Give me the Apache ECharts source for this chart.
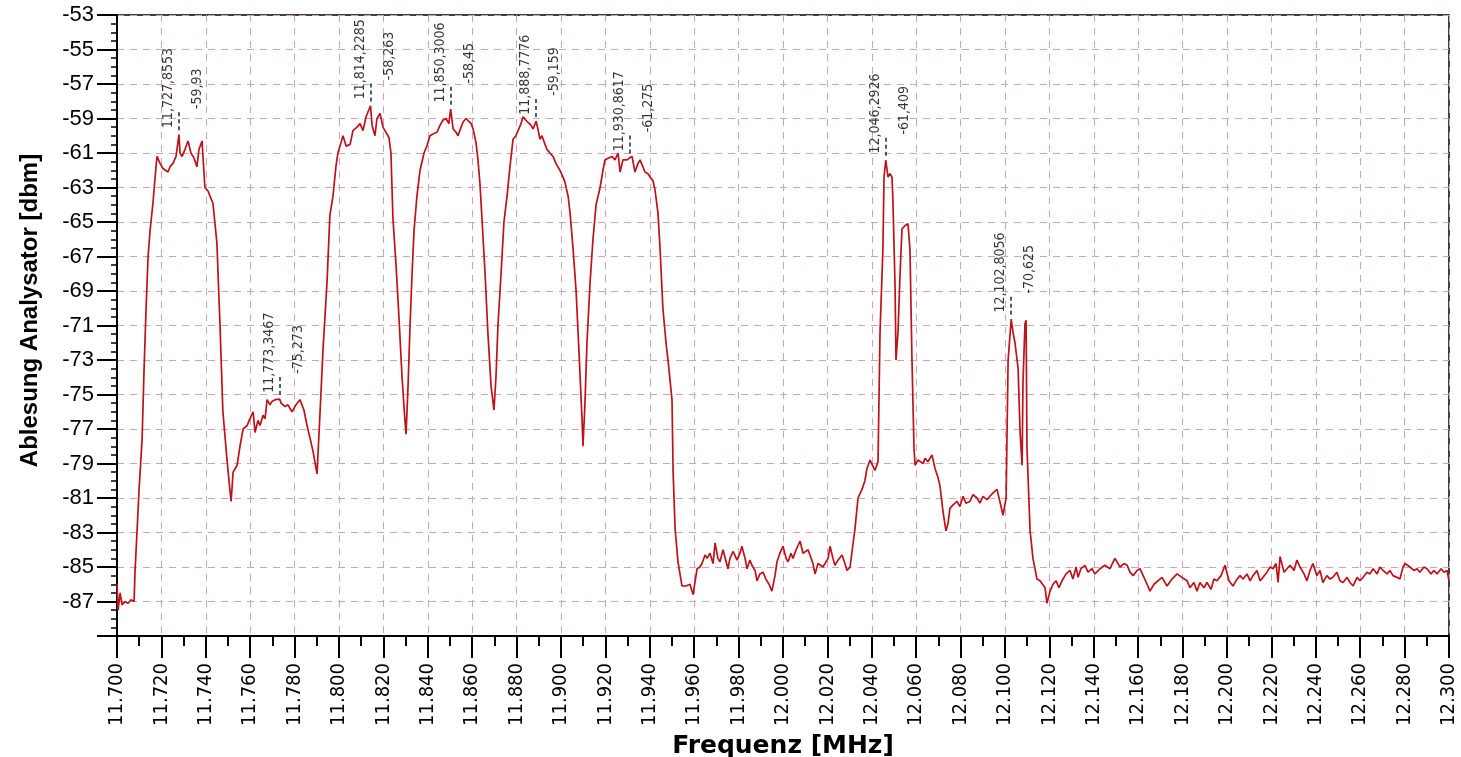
<!DOCTYPE html>
<html>
<head>
<meta charset="utf-8">
<title>Frequenz Spektrum</title>
<script src="https://cdn.jsdelivr.net/npm/echarts@6/dist/echarts.min.js"></script>
<style>
    html, body { margin: 0; padding: 0; background: #fff; }
    #chart { width: 1461px; height: 757px; }
</style>
</head>
<body>
<div id="chart"></div>
<script>
// Messkurve: [Frequenz MHz, Pegel dBm]
const trace = [
    [11.7000, -86.0], [11.7005, -87.5], [11.7014, -86.5], [11.7023, -87.2], [11.7036, -87.0],
    [11.7050, -87.1], [11.7063, -86.9], [11.7077, -87.0], [11.7081, -85.3], [11.7090, -83.0],
    [11.7099, -80.6], [11.7113, -77.6], [11.7122, -73.5], [11.7131, -70.0], [11.7140, -67.0],
    [11.7149, -65.5], [11.7162, -63.9], [11.7171, -62.5], [11.7180, -61.2], [11.7194, -61.6],
    [11.7207, -61.9], [11.7230, -62.1], [11.7239, -61.8], [11.7252, -61.6], [11.7266, -61.2],
    [11.7279, -59.93], [11.7284, -61.0], [11.7293, -61.2], [11.7306, -60.8], [11.7320, -60.3],
    [11.7333, -61.0], [11.7347, -61.3], [11.7360, -61.8], [11.7369, -60.8], [11.7383, -60.3],
    [11.7396, -63.0], [11.7410, -63.2], [11.7419, -63.5], [11.7432, -63.9], [11.7450, -66.2],
    [11.7464, -71.0], [11.7477, -76.0], [11.7495, -78.7], [11.7509, -80.6], [11.7514, -81.2],
    [11.7523, -79.5], [11.7541, -79.1], [11.7554, -78.0], [11.7568, -77.0], [11.7586, -76.8],
    [11.7599, -76.4], [11.7613, -76.0], [11.7622, -77.2], [11.7635, -76.5], [11.7644, -76.8],
    [11.7658, -76.2], [11.7667, -76.4], [11.7676, -75.3], [11.7689, -75.6], [11.7698, -75.4],
    [11.7712, -75.3], [11.7733, -75.27], [11.7739, -75.5], [11.7757, -75.7], [11.7770, -75.6],
    [11.7788, -76.0], [11.7806, -75.6], [11.7824, -75.3], [11.7842, -75.9], [11.7856, -76.8],
    [11.7869, -77.5], [11.7883, -78.3], [11.7901, -79.6], [11.7914, -76.2], [11.7928, -72.4],
    [11.7946, -68.5], [11.7959, -64.6], [11.7973, -63.5], [11.7986, -61.8], [11.7995, -61.0],
    [11.8009, -60.4], [11.8018, -60.0], [11.8032, -60.6], [11.8050, -60.5], [11.8063, -59.7],
    [11.8081, -59.5], [11.8095, -59.3], [11.8108, -59.7], [11.8122, -58.9], [11.8131, -59.0],
    [11.8142, -58.26], [11.8149, -59.4], [11.8162, -60.0], [11.8171, -59.0], [11.8185, -58.7],
    [11.8198, -59.5], [11.8207, -59.7], [11.8225, -60.1], [11.8234, -61.0], [11.8243, -64.8],
    [11.8257, -67.5], [11.8270, -70.5], [11.8284, -74.0], [11.8297, -76.5], [11.8302, -77.3],
    [11.8311, -74.5], [11.8320, -71.0], [11.8329, -68.0], [11.8338, -65.5], [11.8351, -63.5],
    [11.8365, -62.0], [11.8383, -61.0], [11.8396, -60.6], [11.8410, -60.0], [11.8423, -59.9],
    [11.8441, -59.8], [11.8455, -59.4], [11.8468, -59.1], [11.8482, -59.0], [11.8495, -59.3],
    [11.8503, -58.45], [11.8514, -59.6], [11.8527, -59.8], [11.8536, -60.0], [11.8550, -59.5],
    [11.8559, -59.2], [11.8572, -59.0], [11.8581, -59.1], [11.8595, -59.3], [11.8604, -59.6],
    [11.8617, -60.4], [11.8626, -61.4], [11.8635, -62.8], [11.8644, -64.8], [11.8658, -68.0],
    [11.8671, -71.5], [11.8685, -74.5], [11.8698, -75.9], [11.8707, -74.0], [11.8716, -71.0],
    [11.8730, -68.0], [11.8743, -65.0], [11.8757, -63.5], [11.8770, -61.8], [11.8784, -60.2],
    [11.8797, -60.0], [11.8806, -60.0], [11.8820, -59.3], [11.8829, -58.9], [11.8842, -59.1],
    [11.8851, -59.2], [11.8865, -59.4], [11.8874, -59.6], [11.8888, -59.16], [11.8896, -59.6],
    [11.8905, -60.2], [11.8914, -60.0], [11.8928, -60.5], [11.8937, -60.8], [11.8950, -61.0],
    [11.8964, -61.2], [11.8977, -61.6], [11.8995, -62.0], [11.9009, -62.4], [11.9018, -62.7],
    [11.9032, -63.5], [11.9041, -64.5], [11.9054, -66.5], [11.9068, -69.0], [11.9081, -72.5],
    [11.9095, -76.5], [11.9099, -78.0], [11.9108, -75.5], [11.9117, -72.0], [11.9131, -68.5],
    [11.9144, -66.0], [11.9158, -64.0], [11.9176, -63.0], [11.9189, -62.0], [11.9198, -61.4],
    [11.9212, -61.3], [11.9230, -61.2], [11.9243, -61.4], [11.9257, -61.0], [11.9266, -62.1],
    [11.9279, -61.4], [11.9297, -61.4], [11.9309, -61.28], [11.9320, -61.2], [11.9333, -62.1],
    [11.9347, -61.6], [11.9356, -61.4], [11.9369, -61.8], [11.9378, -62.1], [11.9392, -62.2],
    [11.9401, -62.4], [11.9414, -62.6], [11.9423, -63.1], [11.9437, -64.5], [11.9446, -66.5],
    [11.9459, -70.0], [11.9473, -72.0], [11.9482, -73.0], [11.9500, -75.3], [11.9505, -79.5],
    [11.9514, -82.8], [11.9527, -84.7], [11.9545, -86.1], [11.9563, -86.1], [11.9581, -86.0],
    [11.9595, -86.6], [11.9613, -85.1], [11.9626, -85.0], [11.9635, -84.8], [11.9649, -84.3],
    [11.9658, -84.5], [11.9671, -84.2], [11.9685, -84.8], [11.9694, -83.6], [11.9707, -84.5],
    [11.9716, -84.7], [11.9730, -84.0], [11.9739, -84.1], [11.9752, -85.1], [11.9761, -84.5],
    [11.9775, -84.1], [11.9793, -84.6], [11.9806, -84.2], [11.9815, -83.8], [11.9829, -84.5],
    [11.9838, -85.1], [11.9851, -84.6], [11.9860, -84.9], [11.9874, -85.2], [11.9883, -85.8],
    [11.9896, -85.4], [11.9910, -85.3], [11.9923, -85.7], [11.9937, -86.0], [11.9950, -86.4],
    [11.9964, -85.5], [11.9973, -84.7], [11.9986, -84.2], [12.0000, -83.8], [12.0014, -84.5],
    [12.0023, -84.7], [12.0036, -84.2], [12.0045, -84.5], [12.0059, -84.0], [12.0077, -83.5],
    [12.0090, -84.2], [12.0099, -84.3], [12.0113, -84.0], [12.0122, -84.1], [12.0135, -84.8],
    [12.0144, -85.4], [12.0158, -84.8], [12.0167, -84.8], [12.0180, -85.0], [12.0189, -84.9],
    [12.0203, -84.5], [12.0212, -83.8], [12.0225, -84.5], [12.0234, -84.9], [12.0248, -84.6],
    [12.0266, -84.3], [12.0279, -84.8], [12.0288, -85.2], [12.0302, -85.0], [12.0311, -84.9],
    [12.0324, -82.8], [12.0338, -81.0], [12.0356, -80.5], [12.0369, -80.0], [12.0378, -79.3],
    [12.0392, -78.8], [12.0401, -78.9], [12.0414, -79.4], [12.0428, -78.9], [12.0437, -71.4],
    [12.0450, -66.6], [12.0455, -62.4], [12.0463, -61.41], [12.0473, -62.4], [12.0482, -62.2],
    [12.0491, -62.4], [12.0495, -63.7], [12.0505, -68.9], [12.0509, -73.0], [12.0518, -71.4],
    [12.0527, -68.1], [12.0536, -65.4], [12.0550, -65.2], [12.0563, -65.1], [12.0572, -66.6],
    [12.0581, -73.0], [12.0590, -78.1], [12.0595, -79.1], [12.0608, -78.8], [12.0617, -78.7],
    [12.0631, -79.0], [12.0640, -78.7], [12.0653, -78.9], [12.0671, -78.5], [12.0685, -79.3],
    [12.0698, -79.8], [12.0707, -80.3], [12.0721, -81.8], [12.0734, -82.9], [12.0743, -82.5],
    [12.0752, -81.6], [12.0766, -81.4], [12.0784, -81.2], [12.0797, -81.5], [12.0811, -80.9],
    [12.0824, -81.3], [12.0842, -81.2], [12.0856, -80.8], [12.0874, -81.0], [12.0887, -81.3],
    [12.0901, -80.9], [12.0919, -81.1], [12.0932, -80.9], [12.0946, -80.7], [12.0964, -80.5],
    [12.0977, -81.2], [12.0991, -82.0], [12.1005, -81.0], [12.1014, -73.0], [12.1028, -70.63],
    [12.1036, -71.4], [12.1045, -72.0], [12.1054, -72.0], [12.1059, -73.5], [12.1068, -77.2],
    [12.1077, -79.1], [12.1081, -74.3], [12.1090, -70.9], [12.1095, -70.7], [12.1099, -78.1],
    [12.1113, -82.9], [12.1126, -84.5], [12.1144, -85.7], [12.1158, -85.8], [12.1167, -85.7],
    [12.1180, -86.2], [12.1189, -87.1], [12.1203, -86.4], [12.1216, -86.0], [12.1230, -85.8],
    [12.1243, -86.2], [12.1257, -85.8], [12.1275, -85.4], [12.1293, -85.2], [12.1306, -85.7],
    [12.1320, -85.0], [12.1329, -85.6], [12.1342, -85.1], [12.1360, -84.9], [12.1374, -85.3],
    [12.1392, -85.1], [12.1405, -85.4], [12.1428, -85.1], [12.1450, -84.9], [12.1473, -85.1],
    [12.1495, -84.5], [12.1518, -85.0], [12.1536, -84.8], [12.1550, -84.9], [12.1563, -85.3],
    [12.1577, -85.5], [12.1595, -85.2], [12.1608, -85.1], [12.1626, -85.6], [12.1640, -86.0],
    [12.1653, -86.4], [12.1671, -86.0], [12.1689, -85.8], [12.1707, -85.6], [12.1730, -86.1],
    [12.1752, -85.7], [12.1775, -85.4], [12.1797, -85.6], [12.1820, -85.8], [12.1833, -86.2],
    [12.1851, -85.9], [12.1865, -86.4], [12.1878, -85.9], [12.1896, -86.2], [12.1910, -85.9],
    [12.1928, -86.3], [12.1941, -85.7], [12.1955, -85.8], [12.1973, -85.5], [12.1991, -84.9],
    [12.2009, -85.8], [12.2027, -86.1], [12.2045, -85.7], [12.2059, -85.5], [12.2072, -85.7],
    [12.2090, -85.4], [12.2104, -85.8], [12.2117, -85.5], [12.2135, -85.2], [12.2149, -85.8],
    [12.2162, -85.6], [12.2180, -85.3], [12.2194, -85.0], [12.2207, -85.1], [12.2221, -84.8],
    [12.2230, -85.9], [12.2239, -84.4], [12.2257, -85.3], [12.2270, -85.1], [12.2284, -84.9],
    [12.2302, -85.2], [12.2315, -84.6], [12.2329, -85.0], [12.2347, -85.4], [12.2360, -85.8],
    [12.2374, -85.2], [12.2387, -84.8], [12.2405, -85.5], [12.2419, -85.2], [12.2432, -85.9],
    [12.2450, -85.5], [12.2464, -85.7], [12.2477, -85.6], [12.2495, -85.3], [12.2509, -85.8],
    [12.2523, -85.9], [12.2541, -85.6], [12.2554, -85.9], [12.2568, -86.1], [12.2586, -85.6],
    [12.2599, -85.8], [12.2613, -85.6], [12.2631, -85.3], [12.2644, -85.4], [12.2658, -85.1],
    [12.2676, -85.4], [12.2689, -85.0], [12.2703, -85.2], [12.2721, -85.4], [12.2734, -85.2],
    [12.2748, -85.5], [12.2766, -85.6], [12.2779, -85.7], [12.2793, -85.0], [12.2802, -84.8],
    [12.2824, -85.0], [12.2842, -85.2], [12.2856, -85.1], [12.2869, -85.3], [12.2887, -85.0],
    [12.2901, -85.1], [12.2919, -85.4], [12.2932, -85.2], [12.2946, -85.4], [12.2964, -85.1],
    [12.2977, -85.3], [12.2991, -85.2], [12.3000, -85.8]
]

// Marker (Spitzen) mit Beschriftung
const markerFreq = [11.7278553, 11.7733467, 11.8142285, 11.8503006, 11.8887776, 11.9308617, 12.0462926, 12.1028056]
const markerLevel = [-59.93, -75.273, -58.263, -58.45, -59.159, -61.275, -61.409, -70.625]
const markerFreqText = ['11,727,8553', '11,773,3467', '11,814,2285', '11,850,3006', '11,888,7776', '11,930,8617', '12,046,2926', '12,102,8056']
const markerLevelText = ['-59,93', '-75,273', '-58,263', '-58,45', '-59,159', '-61,275', '-61,409', '-70,625']

// Achsen
const freqMin = 11.7
const freqMax = 12.3
const freqStep = 0.02
const levelMin = -89
const levelMax = -53
const levelStep = 2

const narrowFont = '"Liberation Sans Narrow", "DejaVu Sans Condensed", "Arial Narrow", sans-serif'
const gridLine = {
    show: true,
    lineStyle: { type: [7, 6], color: '#cfa3bd', width: 1 }
}

const chart = echarts.init(document.getElementById('chart'))

const freqLabelData = markerFreq.map((f, i) => ({ value: [f, markerLevel[i]], label: { formatter: markerFreqText[i] } }))
const levelLabelData = markerFreq.map((f, i) => ({ value: [f, markerLevel[i]], label: { formatter: markerLevelText[i] } }))
const markerLines = markerFreq.map((f, i) => [
    { coord: [f, markerLevel[i] + 0.25] },
    { coord: [f, markerLevel[i] + 1.4] }
])

const option = {
    animation: false,
    backgroundColor: '#fff',
    grid: {
        left: 117,
        right: 12,
        top: 15,
        bottom: 121,
        outerBoundsMode: 'none',
        show: true,
        borderColor: '#000',
        borderWidth: 1.5
    },
    xAxis: {
        type: 'value',
        min: freqMin,
        max: freqMax,
        interval: freqStep,
        name: 'Frequenz [MHz]',
        nameLocation: 'middle',
        nameGap: 88,
        nameTextStyle: { color: '#000', fontSize: 25, fontWeight: 'bold', fontFamily: '"DejaVu Sans", Arial, sans-serif' },
        axisLine: { show: true, lineStyle: { color: '#000', width: 2 } },
        axisTick: { show: true, length: 22, lineStyle: { color: '#000', width: 2 } },
        minorTick: { show: true, splitNumber: 2, length: 10, lineStyle: { color: '#000', width: 2 } },
        axisLabel: {
            rotate: 90,
            margin: 27,
            color: '#000',
            fontSize: 20,
            fontFamily: narrowFont,
            formatter: v => v.toFixed(3)
        },
        splitLine: gridLine
    },
    yAxis: {
        type: 'value',
        min: levelMin,
        max: levelMax,
        interval: levelStep,
        name: 'Ablesung Analysator [dbm]',
        nameLocation: 'middle',
        nameGap: 75,
        nameTextStyle: {
            color: '#000',
            fontSize: 24,
            fontWeight: 'bold',
            fontFamily: 'Liberation Sans, Arial, sans-serif',
            padding: [0, 0, 0, 30]
        },
        axisLine: { show: true, lineStyle: { color: '#000', width: 2 } },
        axisTick: { show: true, length: 20, lineStyle: { color: '#000', width: 2 } },
        minorTick: { show: true, splitNumber: 4, length: 6, lineStyle: { color: '#000', width: 1.5 } },
        axisLabel: {
            showMinLabel: false,
            margin: 23,
            color: '#000',
            fontSize: 22,
            fontFamily: 'Liberation Sans, Arial, sans-serif'
        },
        splitLine: gridLine
    },
    series: [
        {
            name: 'Pegel',
            type: 'line',
            data: trace,
            showSymbol: false,
            silent: true,
            lineStyle: { color: '#bd1219', width: 1.7 },
            markLine: {
                silent: true,
                symbol: ['none', 'none'],
                label: { show: false },
                lineStyle: { type: [4, 3], color: '#1c2440', width: 1.5 },
                data: markerLines
            }
        },
        {
            name: 'Frequenz-Marker',
            type: 'scatter',
            data: freqLabelData,
            symbolSize: 1,
            itemStyle: { color: 'rgba(0,0,0,0)' },
            silent: true,
            label: {
                show: true,
                position: [-3, -6],
                rotate: 90,
                align: 'left',
                verticalAlign: 'bottom',
                color: '#000',
                fontSize: 14,
                fontFamily: narrowFont
            }
        },
        {
            name: 'Pegel-Marker',
            type: 'scatter',
            data: levelLabelData,
            symbolSize: 1,
            itemStyle: { color: 'rgba(0,0,0,0)' },
            silent: true,
            label: {
                show: true,
                position: [19, -25],
                rotate: 90,
                align: 'left',
                verticalAlign: 'middle',
                color: '#000',
                fontSize: 14,
                fontFamily: narrowFont
            }
        }
    ]
}

chart.setOption(option)
</script>
</body>
</html>
